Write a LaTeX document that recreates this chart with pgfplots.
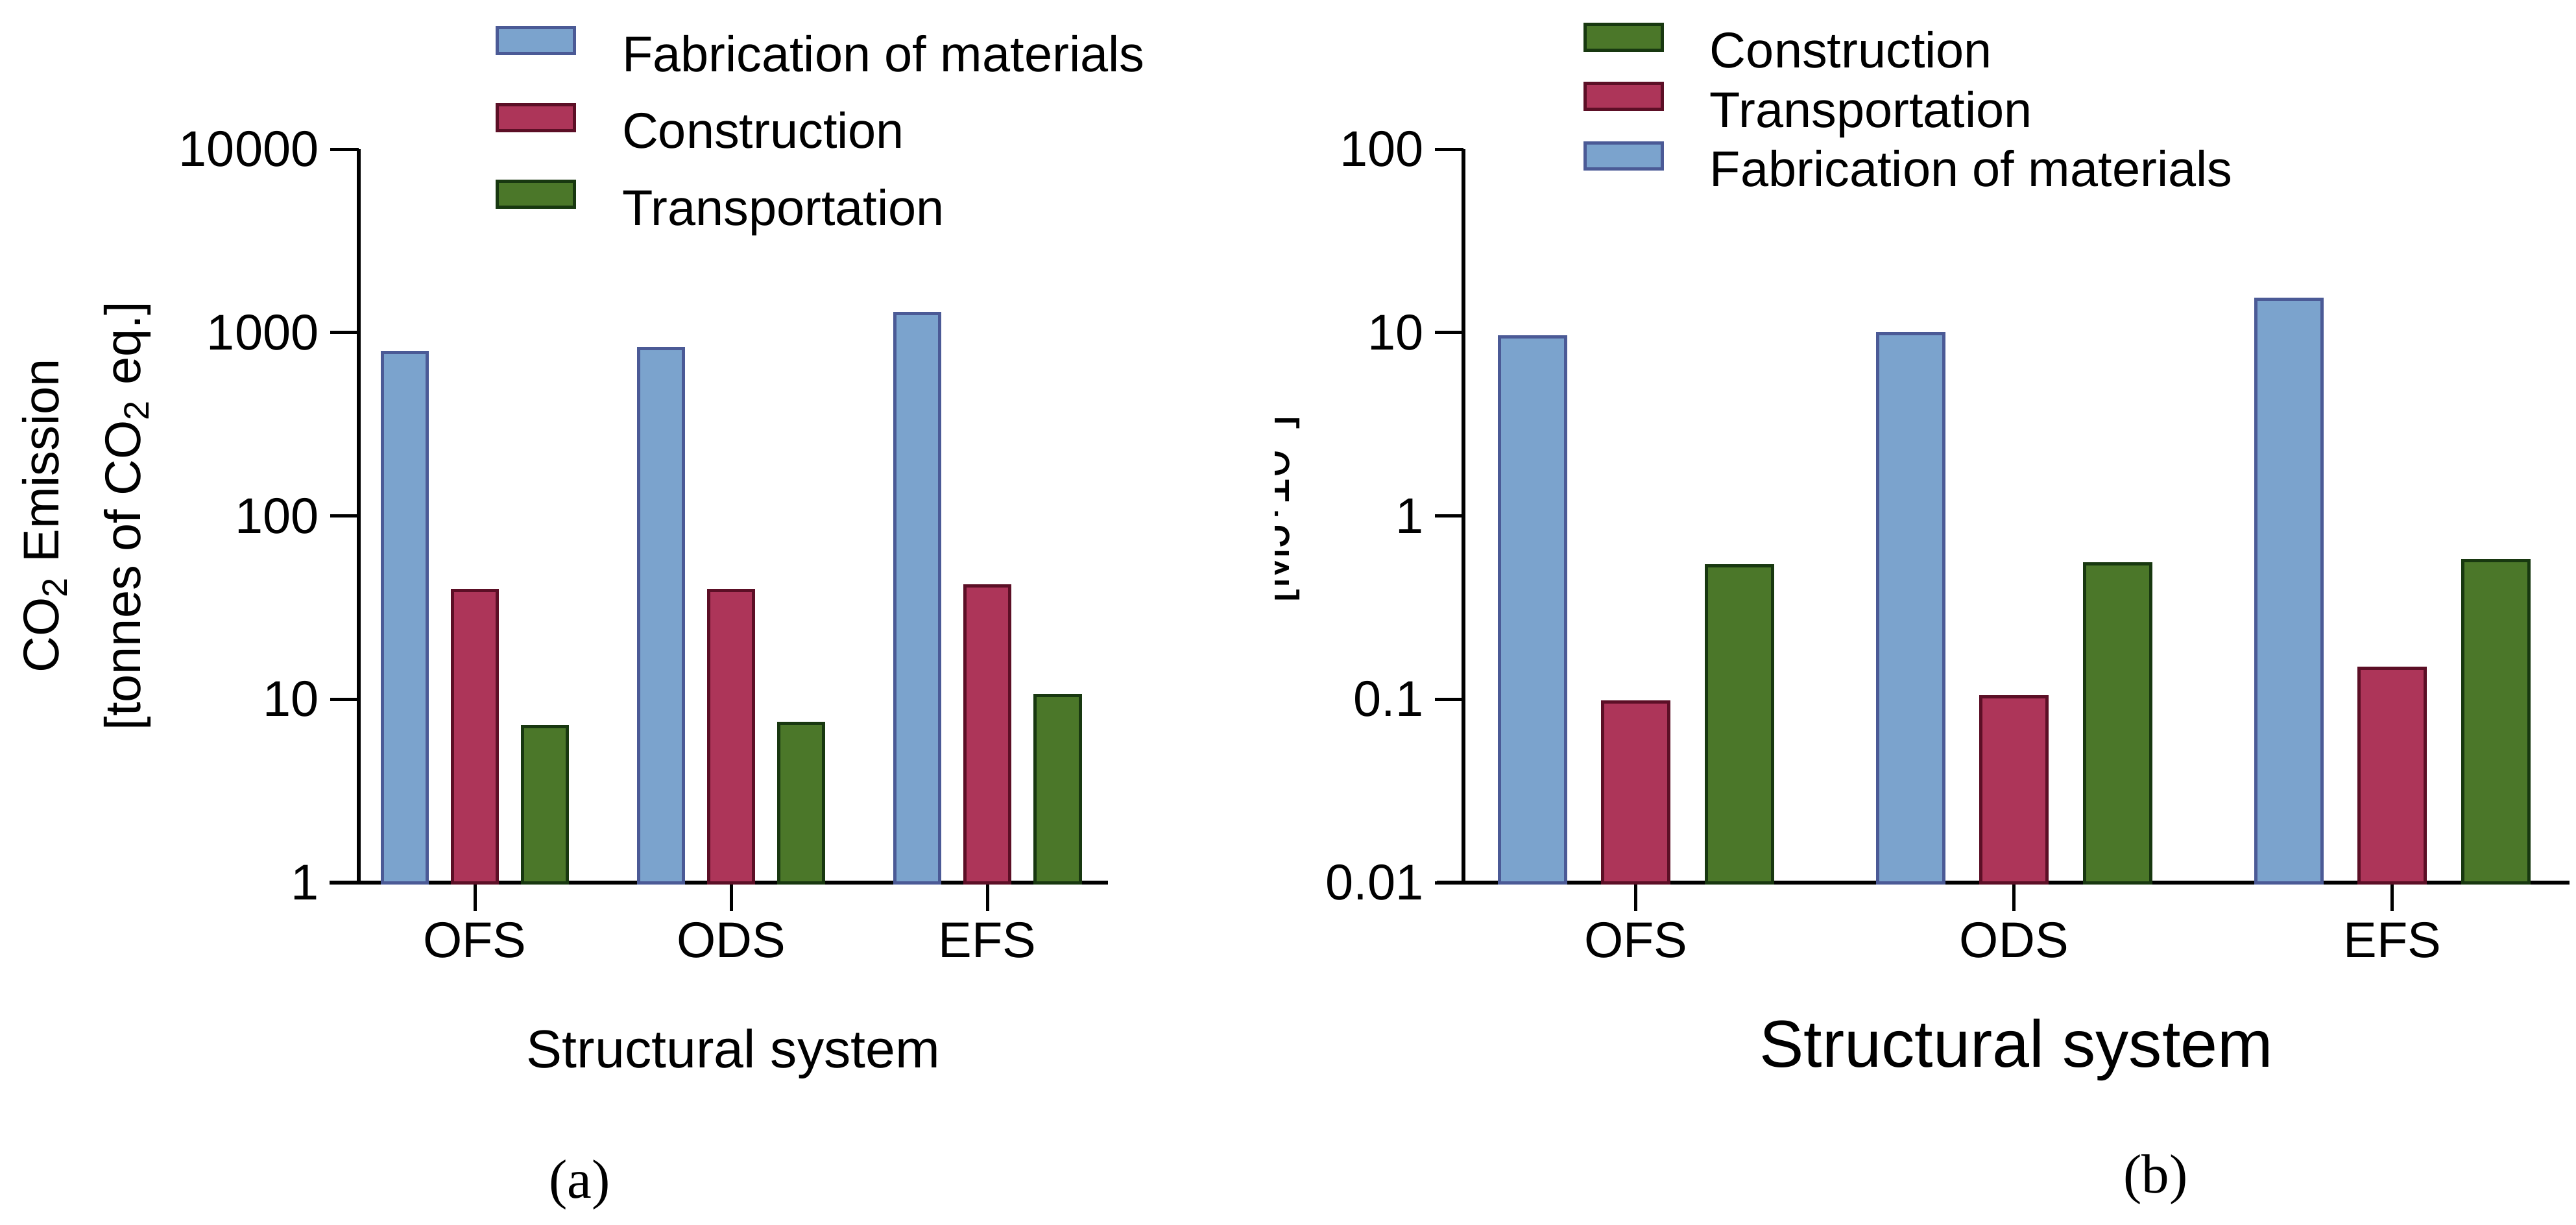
\documentclass[border=0pt]{standalone}
\usepackage{fontspec}
\setmainfont{Liberation Sans}
\newfontfamily\serifpanel{Liberation Serif}
\usepackage{pgfplots}
\pgfplotsset{compat=1.18}
\definecolor{fabfill}{HTML}{7BA3CD}
\definecolor{fabedge}{HTML}{4B5A96}
\definecolor{redfill}{HTML}{AD3559}
\definecolor{rededge}{HTML}{5C0F26}
\definecolor{grnfill}{HTML}{4B7729}
\definecolor{grnedge}{HTML}{183810}
\begin{document}
\begin{tikzpicture}
\path[use as bounding box] (0pt,0pt) rectangle (794.2pt,377.6pt);
% ---------------- (a) ----------------
\begin{axis}[
  scale only axis, height=226.2pt, anchor=south west,
  at={(110.6pt,105.4pt)}, width=231pt, clip=false,
  ymode=log, log origin=infty,
  ybar, bar width=0.175,
  axis x line*=bottom, axis y line*=left,
  axis line style={line width=1.2pt,-},
  x axis line style={shorten <=-9pt},
  tick align=outside, major tick length=8.8pt,
  major tick style={line width=1pt, black},
  yminorticks=false,
  xmin=-0.453, xmax=2.47, ymin=1, ymax=10000,
  xtick={0,1,2}, xticklabels={OFS,ODS,EFS},
  ytick={1,10,100,1000,10000}, yticklabels={1,10,100,1000,10000},
  tick label style={font=\fontsize{15.5}{18}\selectfont},
  ylabel={CO\textsubscript{2} Emission\\ {[}tonnes of CO\textsubscript{2} eq.{]}},
  ylabel style={align=center, font=\fontsize{15.5}{25.2}\selectfont,
    at={(axis description cs:-0.3636,0.5)}, anchor=center},
  xlabel={Structural system},
  xlabel style={font=\fontsize{16.5}{19}\selectfont,
    at={(axis description cs:0.5,-0.252)}, anchor=base},
  legend cell align=left,
  legend style={draw=none, fill=none, inner sep=0pt, outer sep=0pt, anchor=north west,
   at={(axis description cs:0.1827,1.1676)},
   font=\fontsize{15.5}{18}\selectfont, row sep=6.2pt,
   nodes={inner sep=0pt, text height=11.5pt, text depth=3.5pt},
   /tikz/every odd column/.append style={column sep=14.2pt}},
]
\addplot[fill=fabfill, draw=fabedge, line width=1pt, bar shift=-0.274,
  legend image code/.code={\draw[fill=fabfill, draw=fabedge, line width=1pt] (0pt,1.5pt) rectangle (23.8pt,9.5pt);}]
  coordinates {(0,776) (1,819) (2,1267)};
\addlegendentry{Fabrication of materials}
\addplot[fill=redfill, draw=rededge, line width=1pt, bar shift=0,
  legend image code/.code={\draw[fill=redfill, draw=rededge, line width=1pt] (0pt,1.5pt) rectangle (23.8pt,9.5pt);}]
  coordinates {(0,39.3) (1,39.3) (2,41.4)};
\addlegendentry{Construction}
\addplot[fill=grnfill, draw=grnedge, line width=1pt, bar shift=0.274,
  legend image code/.code={\draw[fill=grnfill, draw=grnedge, line width=1pt] (0pt,1.5pt) rectangle (23.8pt,9.5pt);}]
  coordinates {(0,7.08) (1,7.41) (2,10.5)};
\addlegendentry{Transportation}
\node[font=\serifpanel\fontsize{17}{20}\selectfont, anchor=base] at (axis description cs:0.295,-0.43) {(a)};
\end{axis}
% ---------------- (b) ----------------
\begin{axis}[
  scale only axis, height=226.2pt, anchor=south west,
  at={(451.2pt,105.4pt)}, width=340.9pt, clip=false,
  ymode=log, log origin=infty,
  ybar, bar width=0.175,
  axis x line*=bottom, axis y line*=left,
  axis line style={line width=1.2pt,-},
  x axis line style={shorten <=-8.2pt},
  tick align=outside, major tick length=8.8pt,
  major tick style={line width=1pt, black},
  yminorticks=false,
  xmin=-0.456, xmax=2.468, ymin=0.01, ymax=100,
  xtick={0,1,2}, xticklabels={OFS,ODS,EFS},
  ytick={0.01,0.1,1,10,100}, yticklabels={0.01,0.1,1,10,100},
  tick label style={font=\fontsize{15.5}{18}\selectfont},
  xlabel={Structural system},
  xlabel style={font=\fontsize{20.5}{24}\selectfont,
    at={(axis description cs:0.5,-0.2511)}, anchor=base},
  reverse legend,
  legend cell align=left,
  legend style={draw=none, fill=none, inner sep=0pt, outer sep=0pt, anchor=north west,
   at={(axis description cs:0.1085,1.1728)},
   font=\fontsize{15.5}{18}\selectfont, row sep=0.8pt,
   nodes={inner sep=0pt, text height=11.5pt, text depth=3.5pt},
   /tikz/every odd column/.append style={column sep=14.2pt}},
]
\addplot[fill=fabfill, draw=fabedge, line width=1pt, bar shift=-0.274,
  legend image code/.code={\draw[fill=fabfill, draw=fabedge, line width=1pt] (0pt,1.5pt) rectangle (23.8pt,9.5pt);}]
  coordinates {(0,9.49) (1,9.9) (2,15.2)};
\addlegendentry{Fabrication of materials}
\addplot[fill=redfill, draw=rededge, line width=1pt, bar shift=0,
  legend image code/.code={\draw[fill=redfill, draw=rededge, line width=1pt] (0pt,1.5pt) rectangle (23.8pt,9.5pt);}]
  coordinates {(0,0.0969) (1,0.103) (2,0.147)};
\addlegendentry{Transportation}
\addplot[fill=grnfill, draw=grnedge, line width=1pt, bar shift=0.274,
  legend image code/.code={\draw[fill=grnfill, draw=grnedge, line width=1pt] (0pt,1.5pt) rectangle (23.8pt,9.5pt);}]
  coordinates {(0,0.535) (1,0.547) (2,0.570)};
\addlegendentry{Construction}
\node[font=\serifpanel\fontsize{17}{20}\selectfont, anchor=base] at (axis description cs:0.626,-0.423) {(b)};
\end{axis}
% clipped y label of (b), as in the source figure
\begin{scope}
\clip (393pt,0pt) rectangle (440pt,377.6pt);
\node[rotate=90, anchor=base, font=\fontsize{15.5}{18}\selectfont, inner sep=0pt] at (397.4pt,220.6pt) {[MJ·10\textsuperscript{3}]};
\end{scope}
\end{tikzpicture}
\end{document}
